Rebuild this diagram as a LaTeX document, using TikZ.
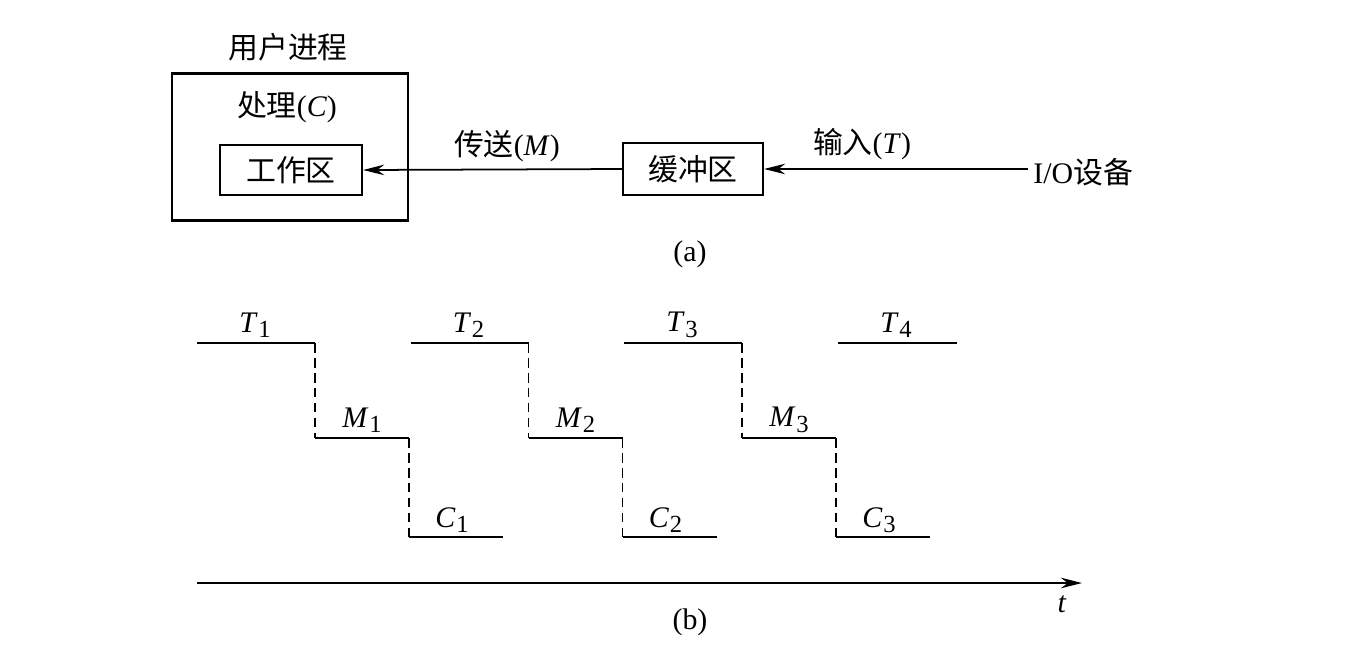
\documentclass[tikz,border=0pt]{standalone}
\usepackage{fontspec}
\setmainfont{Liberation Serif}
\newfontfamily\cjk{Noto Sans CJK SC}
\usetikzlibrary{arrows.meta}
\newcommand{\lblsub}[2]{\textit{#1}\kern0.02em\raisebox{-0.4ex}{\fontsize{14}{15}\selectfont #2}}
\begin{document}
\begin{tikzpicture}[x=0.02cm,y=-0.02cm,
  every node/.style={font=\fontsize{17}{20}\selectfont},
  boxa/.style={draw,line width=1.3pt,inner sep=0pt},
  conn/.style={line width=1pt,-{Stealth[length=12pt,width=6pt]}},
  lvl/.style={line width=1pt},
  drop/.style={line width=1pt,dash pattern=on 5.5pt off 3pt},
  lbl/.style={inner sep=0pt}]
\useasboundingbox (0,0) rectangle (1350,664);
% (a)
\node[boxa,minimum width=4.72cm,minimum height=2.94cm] (proc) at (290,147) {};
\node[lbl] (ptitle) at (288,47) {\cjk 用户进程};
\node[lbl] (pc) at (287,107) {{\cjk 处理}(\textit{C})};
\node[boxa,minimum width=2.84cm,minimum height=1.0cm] (work) at (291,170) {\cjk 工作区};
\node[boxa,minimum width=2.8cm,minimum height=1.04cm] (buf) at (693,169) {\cjk 缓冲区};
\node[lbl,anchor=west] (io) at (1033,172) {I/O{\cjk 设备}};
\draw[conn] (buf.west) -- (work.east);
\draw[conn] ([xshift=-3pt]io.west |- buf.east) -- (buf.east);
\node[lbl] (mlbl) at (507,146) {{\cjk 传送}(\textit{M})};
\node[lbl] (tlbl) at (862,144) {{\cjk 输入}(\textit{T})};
\node[lbl] (capa) at (690,254) {(a)};
% (b)
\foreach \i/\xo in {1/197,2/410.5,3/624}{
  \draw[lvl] (\xo,343) -- (\xo+118,343);
  \draw[drop] (\xo+118,343) -- (\xo+118,438);
  \draw[lvl] (\xo+118,438) -- (\xo+212,438);
  \draw[drop] (\xo+212,438) -- (\xo+212,537);
  \draw[lvl] (\xo+212,537) -- (\xo+306,537);
  \node[lbl] (T\i) at (\xo+58,325) {\lblsub{T}{\i}};
  \node[lbl] (M\i) at (\xo+165,420) {\lblsub{M}{\i}};
  \node[lbl] (C\i) at (\xo+255,520) {\lblsub{C}{\i}};
}
\draw[lvl] (838,343) -- (957,343);
\node[lbl] (T4) at (896,325) {\lblsub{T}{4}};
\coordinate (ax0) at (197,583);
\coordinate (ax1) at (1082,583);
\draw[line width=1.1pt,-{Stealth[length=12pt,width=6pt]}] (ax0) -- (ax1);
\node[lbl] (tt) at (1062,604) {\textit{t}};
\node[lbl] (capb) at (690,622) {(b)};
\end{tikzpicture}
\end{document}
